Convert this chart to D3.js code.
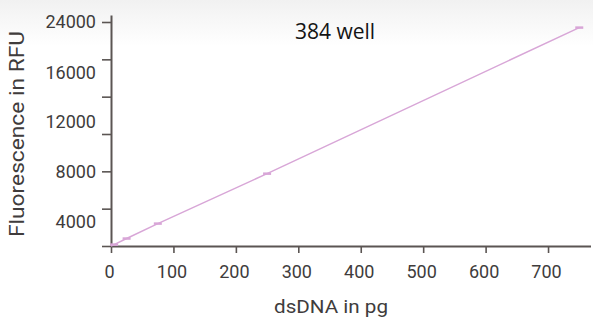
<!DOCTYPE html>
<html>
<head>
<meta charset="utf-8">
<script src="https://cdn.jsdelivr.net/npm/d3@7"></script>
<style>
  body { margin: 0; background: #fff; }
  text { font-family: Roboto, 'DejaVu Sans', sans-serif; fill: #403c3c; }
</style>
</head>
<body>
<div id="chart"></div>
<script>
// data
const dnaPg = [0, 5, 25, 75, 250, 750]
const rfu = [0, 150, 800, 2400, 7750, 23400]

const xTicks = [0, 100, 200, 300, 400, 500, 600, 700]
const yTicks = [0, 4000, 8000, 12000, 16000, 20000, 24000]
// y labels in the original sit a bit off their ticks
const yLabels = ['24000', '16000', '12000', '8000', '4000']
const yLabelAt = [24000, 18640, 13390, 7930, 2570]

const title = '384 well'
const xTitle = 'dsDNA in pg'
const yTitle = 'Fluorescence in RFU'

const dimensions = {
  width: 593,
  height: 320
}
const AXIS = '#5b5553'
const LINE = '#d8a6d7'

const svg = d3.select('#chart').append('svg')
  .attr('width', dimensions.width)
  .attr('height', dimensions.height)

// faint grey wash at the top
const grad = svg.append('defs').append('linearGradient')
  .attr('id', 'topwash')
  .attr('x1', 0).attr('y1', 0).attr('x2', 0).attr('y2', 1)
grad.append('stop').attr('offset', '0%').attr('stop-color', '#f1f1f1')
grad.append('stop').attr('offset', '100%').attr('stop-color', '#ffffff')
svg.append('rect')
  .attr('width', dimensions.width)
  .attr('height', 46)
  .attr('fill', 'url(#topwash)')

const xScale = d3.scaleLinear()
  .domain([0, 768])
  .range([111, 590.5])

const yScale = d3.scaleLinear()
  .domain([0, 24750])
  .range([246, 15])

// y axis
const yAxis = svg.append('g')
  .attr('transform', `translate(${xScale(0)},0)`)
  .call(d3.axisLeft(yScale).tickValues(yTicks).tickFormat('').tickSize(9).tickSizeOuter(0))
yAxis.select('.domain').attr('stroke', AXIS).attr('stroke-width', 2)
yAxis.selectAll('.tick line').attr('stroke', AXIS).attr('stroke-width', 1.6)

svg.append('g')
  .selectAll('text')
  .data(yLabels)
  .join('text')
  .attr('x', 96)
  .attr('y', (d, i) => yScale(yLabelAt[i]))
  .attr('dy', '0.36em')
  .attr('text-anchor', 'end')
  .attr('font-size', 18)
  .text(d => d)

// x axis
const xAxis = svg.append('g')
  .attr('transform', `translate(0,${yScale(0)})`)
  .call(d3.axisBottom(xScale).tickValues(xTicks).tickSize(7).tickSizeOuter(0).tickPadding(12))
xAxis.select('.domain').attr('stroke', AXIS).attr('stroke-width', 2)
xAxis.selectAll('.tick line').attr('stroke', AXIS).attr('stroke-width', 1.6)
xAxis.selectAll('.tick text')
  .attr('font-size', 18)
  .attr('font-family', "Roboto, 'DejaVu Sans', sans-serif")
  .attr('fill', '#403c3c')
  .attr('dx', -2)

// titles
svg.append('text')
  .attr('x', 331)
  .attr('y', 313)
  .attr('text-anchor', 'middle')
  .attr('font-size', 19)
  .attr('textLength', 114)
  .attr('lengthAdjust', 'spacingAndGlyphs')
  .text(xTitle)

svg.append('text')
  .attr('transform', 'translate(24,134) rotate(-90)')
  .attr('text-anchor', 'middle')
  .attr('font-size', 20)
  .attr('textLength', 206)
  .attr('lengthAdjust', 'spacingAndGlyphs')
  .text(yTitle)

svg.append('text')
  .attr('x', 335)
  .attr('y', 39)
  .attr('text-anchor', 'middle')
  .attr('font-size', 21)
  .style('font-family', "'Open Sans', sans-serif")
  .style('font-weight', 500)
  .style('fill', '#141414')
  .text(title)

// the fit line and the small error marks
const points = dnaPg.map((d, i) => [d, rfu[i]])
const line = d3.line()
  .x(d => xScale(d[0]))
  .y(d => yScale(d[1]))

svg.append('path')
  .datum(points)
  .attr('fill', 'none')
  .attr('stroke', LINE)
  .attr('stroke-width', 1.5)
  .attr('d', line)

svg.append('g')
  .selectAll('line')
  .data(points.slice(1))
  .join('line')
  .attr('x1', d => xScale(d[0]) - 4)
  .attr('x2', d => xScale(d[0]) + 4)
  .attr('y1', d => yScale(d[1]))
  .attr('y2', d => yScale(d[1]))
  .attr('stroke', LINE)
  .attr('stroke-width', 2.5)
</script>
</body>
</html>
